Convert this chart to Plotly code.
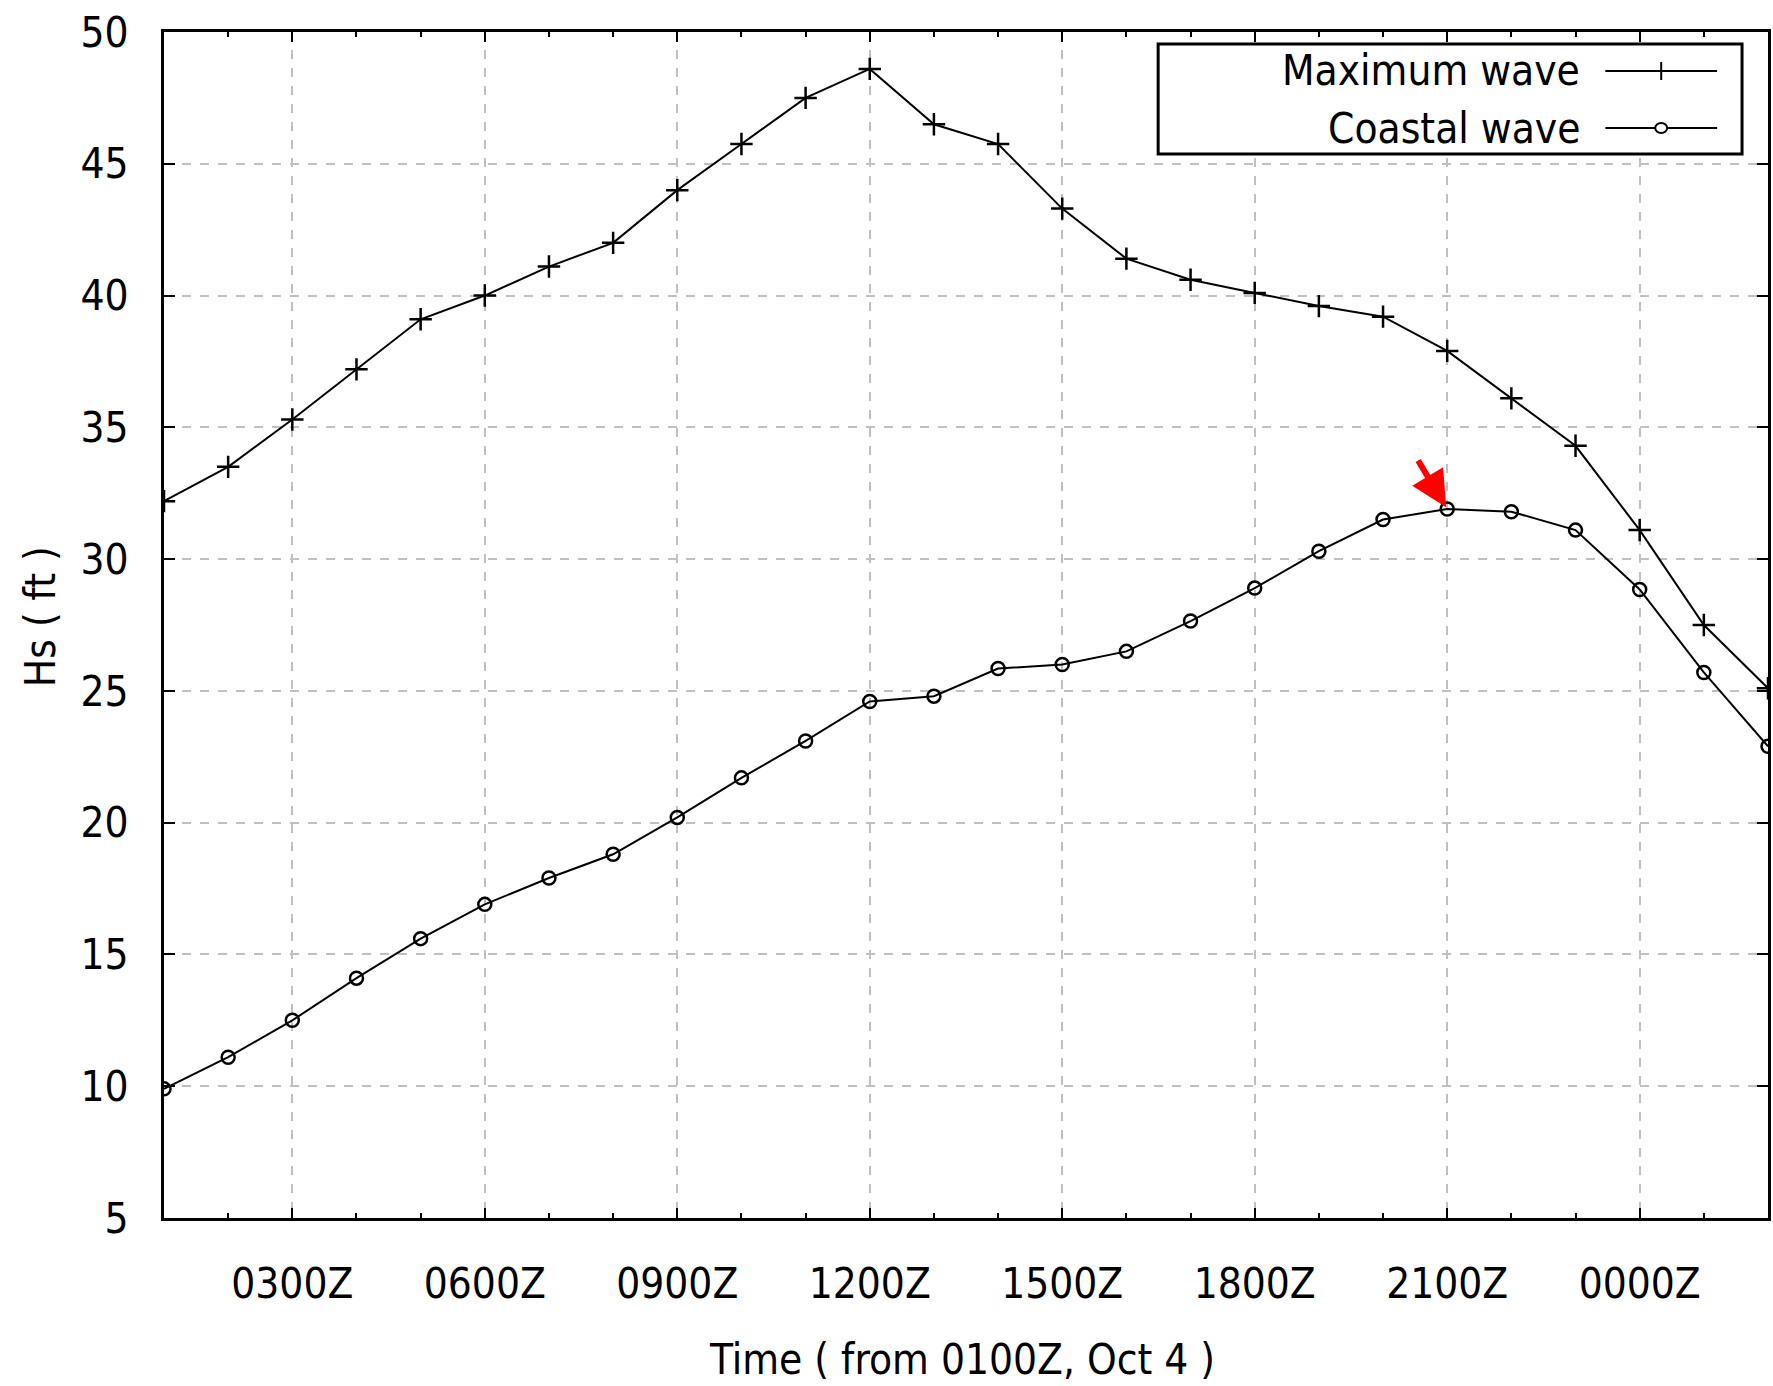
import plotly.graph_objects as go

# ---- data ----
hours = list(range(1, 27))  # hourly from 0100Z Oct 4
max_wave = [32.2, 33.5, 35.3, 37.2, 39.1, 40.0, 41.1, 42.0, 44.0, 45.75,
            47.5, 48.6, 46.5, 45.75, 43.3, 41.4, 40.6, 40.1, 39.6, 39.2,
            37.9, 36.1, 34.3, 31.1, 27.5, 25.1]
coastal_wave = [9.9, 11.1, 12.5, 14.1, 15.6, 16.9, 17.9, 18.8, 20.2, 21.7,
                23.1, 24.6, 24.8, 25.85, 26.0, 26.5, 27.65, 28.9, 30.3, 31.5,
                31.9, 31.8, 31.1, 28.85, 25.7, 22.9]
tick_vals = [3, 6, 9, 12, 15, 18, 21, 24]
tick_text = ["0300Z", "0600Z", "0900Z", "1200Z", "1500Z", "1800Z", "2100Z", "0000Z"]
series_names = ["Maximum wave", "Coastal wave"]
peak_index = 20  # coastal peak at 2100Z

W, H = 1773, 1386
L, R, T, B = 164, 2, 32, 168
PW, PH = W - L - R, H - T - B
FONT = "Liberation Sans Narrow, DejaVu Sans Condensed, Arial Narrow, Liberation Sans, sans-serif"
FS = 42

def px(xp):
    return (xp - L) / PW

def py(yp):
    return (H - B - yp) / PH

fig = go.Figure()
fig.add_trace(go.Scatter(
    x=hours, y=max_wave, mode="lines+markers", name=series_names[0],
    line=dict(color="black", width=2),
    marker=dict(symbol="cross-thin-open", size=16, color="black",
                line=dict(color="black", width=2.5)),
    showlegend=False))
fig.add_trace(go.Scatter(
    x=hours, y=coastal_wave, mode="lines+markers", name=series_names[1],
    line=dict(color="black", width=2),
    marker=dict(symbol="circle-open", size=13, color="black",
                line=dict(color="black", width=2.5)),
    showlegend=False))

axis_common = dict(
    showline=True, linecolor="black", linewidth=3, mirror="ticks",
    ticks="inside", tickcolor="black", tickwidth=2,
    showgrid=True, gridcolor="#c0c0c0", gridwidth=2, griddash="dash",
    zeroline=False, tickfont=dict(family=FONT, size=FS, color="black"),
)

fig.update_xaxes(**axis_common, range=[1, 26], tickvals=tick_vals, ticktext=tick_text,
                 ticklen=10, ticklabelstandoff=27,
                 minor=dict(ticks="inside", dtick=1, tick0=0, ticklen=5,
                            tickcolor="black", tickwidth=2, showgrid=False))
fig.update_yaxes(**axis_common, range=[5, 50], dtick=5, tick0=0, ticklen=11,
                 ticklabelstandoff=24)

# red arrow pointing to coastal peak
fig.add_annotation(x=hours[peak_index], y=coastal_wave[peak_index], xref="x", yref="y",
                   ax=-30, ay=-50, showarrow=True, arrowhead=2, arrowsize=1.2,
                   arrowwidth=6, arrowcolor="red", standoff=2, text="")

# axis titles
fig.add_annotation(text="Time ( from 0100Z, Oct 4 )", xref="paper", yref="paper",
                   x=px(963), y=py(1359), xanchor="center", yanchor="middle",
                   showarrow=False, font=dict(family=FONT, size=FS, color="black"))
fig.add_annotation(text="Hs ( ft )", xref="paper", yref="paper", textangle=-90,
                   x=px(40), y=py(617), xanchor="center", yanchor="middle",
                   showarrow=False, font=dict(family=FONT, size=FS, color="black"))

# custom legend (text left of the sample, like the original)
shapes = []
shapes.append(dict(type="rect", xref="paper", yref="paper",
                   x0=px(1160), x1=px(1745), y0=py(154), y1=py(44),
                   line=dict(color="black", width=3), fillcolor="white", layer="above"))
rows = [71, 128]
for name, ry in zip(series_names, rows):
    fig.add_annotation(text=name, xref="paper", yref="paper", x=px(1585), y=py(ry),
                       xanchor="right", yanchor="middle", showarrow=False,
                       font=dict(family=FONT, size=FS, color="black"))
    shapes.append(dict(type="line", xref="paper", yref="paper",
                       x0=px(1608), x1=px(1720), y0=py(ry), y1=py(ry),
                       line=dict(color="black", width=2), layer="above"))
# plus sample
cx = 1664
shapes.append(dict(type="line", xref="paper", yref="paper",
                   x0=px(cx), x1=px(cx), y0=py(rows[0] - 9), y1=py(rows[0] + 9),
                   line=dict(color="black", width=2), layer="above"))
# circle sample
shapes.append(dict(type="circle", xref="paper", yref="paper",
                   x0=px(cx - 6), x1=px(cx + 6), y0=py(rows[1] - 5), y1=py(rows[1] + 5),
                   line=dict(color="black", width=2), fillcolor="white", layer="above"))

fig.update_layout(
    width=W, height=H, margin=dict(l=L, r=R, t=T, b=B, pad=0),
    plot_bgcolor="white", paper_bgcolor="white", shapes=shapes,
    font=dict(family=FONT, size=FS, color="black"), showlegend=False,
)

fig.write_html("out.html")
